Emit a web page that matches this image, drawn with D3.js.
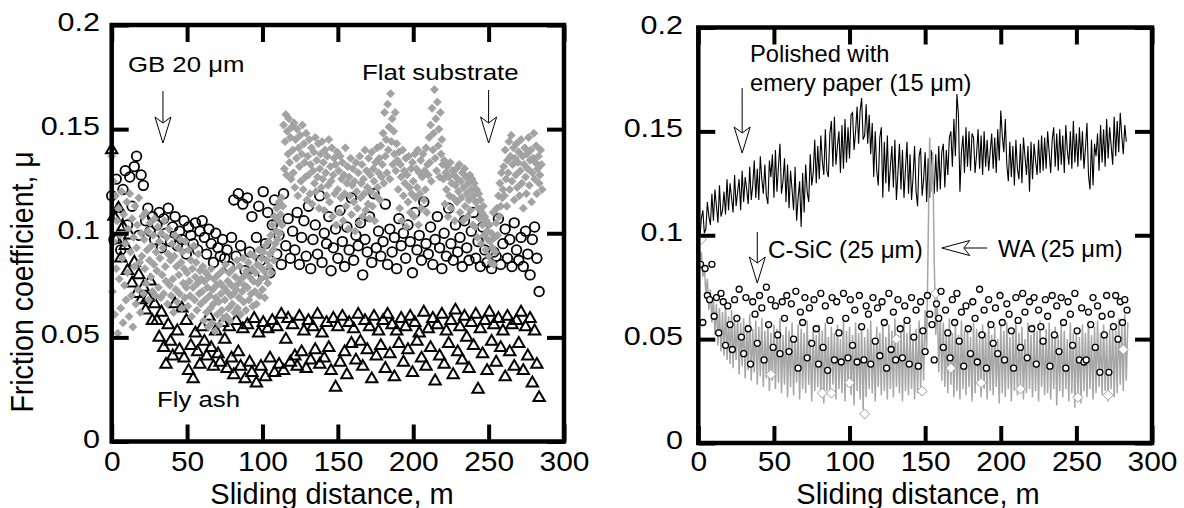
<!DOCTYPE html>
<html>
<head>
<meta charset="utf-8">
<script src="https://cdn.jsdelivr.net/npm/d3@7"></script>
<style>
  body { margin: 0; background: #fff; }
  svg text { font-family: "Liberation Sans", Arial, sans-serif; fill: #000; }
</style>
</head>
<body>
<svg id="chart" width="1184" height="508"></svg>
<script>
var xTicks = [0, 50, 100, 150, 200, 250, 300];
var yTicks = [0, 0.05, 0.1, 0.15, 0.2];
var yTickLabels = ["0", "0.05", "0.1", "0.15", "0.2"];

// left panel: flat substrate (grey diamonds), every 0.5 m from 0 m
var flatStart = 0, flatStep = 0.5;
var flatMu = [
  .137,.072,.125,.096,.061,.118,.083,.106,.052,.112,.078,.099,.064,.120,.088,.057,.109,.075,.095,.068,
  .115,.081,.102,.060,.119,.091,.070,.107,.055,.098,.084,.113,.066,.093,.104,.073,.117,.086,.062,.100,
  .089,.108,.071,.097,.083,.110,.076,.092,.101,.068,.087,.105,.079,.094,.072,.099,.085,.107,.070,.091,
  .082,.103,.074,.096,.088,.069,.100,.080,.093,.071,.106,.084,.077,.098,.066,.090,.102,.075,.087,.070,
  .095,.078,.062,.089,.099,.073,.084,.067,.093,.080,.071,.097,.086,.064,.091,.076,.083,.069,.096,.074,
  .081,.065,.092,.077,.070,.087,.060,.083,.074,.094,.068,.079,.086,.063,.076,.090,.071,.082,.066,.078,
  .072,.084,.058,.077,.068,.081,.062,.074,.055,.079,.070,.064,.083,.057,.073,.066,.078,.053,.069,.075,
  .061,.080,.067,.056,.076,.071,.063,.082,.059,.074,.068,.085,.060,.072,.077,.064,.081,.058,.070,.075,
  .066,.083,.071,.062,.079,.073,.087,.064,.076,.069,.084,.061,.078,.072,.088,.067,.075,.080,.063,.082,
  .074,.086,.068,.079,.090,.071,.083,.065,.077,.089,.072,.081,.066,.085,.076,.092,.070,.084,.078,.088,
  .073,.091,.082,.069,.094,.079,.087,.076,.096,.084,.090,.099,.081,.104,.092,.087,.108,.095,.101,.112,
  .097,.106,.115,.100,.109,.117,.104,.113,.152,.131,.144,.157,.128,.149,.138,.155,.134,.146,.126,.151,
  .140,.129,.153,.122,.145,.136,.150,.118,.141,.132,.147,.125,.138,.152,.121,.143,.134,.127,.148,.116,
  .137,.128,.145,.119,.133,.141,.114,.130,.139,.124,.146,.120,.135,.127,.143,.112,.131,.138,.122,.144,
  .126,.134,.111,.140,.129,.118,.137,.123,.145,.115,.132,.125,.141,.108,.128,.136,.119,.133,.104,.139,
  .121,.130,.110,.137,.117,.126,.134,.106,.128,.119,.141,.113,.124,.132,.102,.127,.118,.136,.109,.123,
  .131,.115,.125,.101,.134,.120,.112,.129,.105,.137,.117,.124,.133,.108,.126,.119,.140,.111,.130,.122,
  .114,.136,.107,.128,.120,.139,.113,.131,.125,.106,.134,.118,.141,.122,.129,.136,.116,.142,.127,.133,
  .148,.124,.158,.137,.145,.129,.162,.140,.151,.126,.167,.144,.155,.133,.149,.138,.158,.130,.143,.135,
  .121,.139,.112,.133,.127,.106,.140,.118,.130,.124,.136,.103,.128,.115,.137,.122,.110,.131,.119,.134,
  .125,.108,.138,.117,.131,.122,.140,.104,.129,.119,.135,.112,.127,.138,.116,.130,.121,.141,.110,.133,
  .128,.146,.134,.152,.125,.160,.140,.148,.169,.136,.155,.130,.163,.142,.150,.127,.158,.138,.145,.133,
  .126,.135,.114,.129,.121,.132,.108,.127,.118,.134,.112,.124,.130,.117,.128,.106,.123,.131,.115,.126,
  .120,.133,.110,.125,.117,.129,.106,.122,.131,.113,.127,.119,.108,.124,.116,.128,.111,.121,.126,.104,
  .118,.124,.103,.115,.121,.098,.112,.119,.107,.116,.095,.110,.104,.113,.099,.108,.092,.106,.101,.097,
  .089,.104,.096,.086,.100,.093,.110,.085,.098,.091,.105,.112,.099,.118,.108,.124,.113,.129,.117,.121,
  .132,.118,.140,.126,.113,.135,.129,.144,.121,.137,.147,.125,.133,.141,.116,.136,.128,.143,.122,.134,
  .139,.118,.130,.145,.124,.137,.112,.133,.141,.127,.119,.138,.131,.146,.123,.135,.140,.115,.129,.136,
  .148,.126,.134,.142,.119,.131,.137,.124,.128,.140,.133,.121
];

// left panel: GB 20 um (open circles), every 1.5 m from 0 m
var gbStart = 0, gbStep = 1.5;
var gbMu = [
  .118,.097,.126,.108,.092,.121,.130,.104,.127,.113, .132,.137,.099,.128,.123,.106,.112,.101,.108,.097,
  .104,.110,.093,.107,.100,.112,.096,.103,.108,.094, .101,.097,.106,.090,.103,.099,.095,.105,.092,.101,
  .106,.098,.090,.102,.095,.086,.100,.093,.089,.097, .088,.092,.084,.098,.116,.089,.119,.094,.114,.082,
  .117,.091,.108,.079,.098,.113,.087,.120,.095,.110, .081,.104,.116,.090,.099,.085,.119,.094,.107,.088,
  .101,.092,.110,.085,.098,.106,.089,.113,.083,.097, .104,.090,.118,.086,.100,.095,.108,.082,.093,.102,
  .088,.111,.096,.084,.103,.092,.117,.087,.099,.094, .105,.080,.097,.091,.108,.086,.119,.093,.101,.089,
  .096,.114,.085,.102,.091,.098,.083,.107,.094,.100, .088,.104,.096,.081,.110,.092,.099,.087,.115,.095,
  .090,.103,.085,.097,.108,.093,.083,.100,.089,.112, .095,.087,.104,.091,.098,.084,.106,.093,.087,.101,
  .110,.088,.096,.084,.103,.092,.086,.099,.083,.091, .089,.107,.085,.095,.102,.088,.097,.084,.105,.092,
  .087,.098,.084,.101,.090,.080,.097,.103,.088,.072
];

// left panel: fly ash (open triangles), every 1.5 m from 0 m
var flyStart = 0, flyStep = 1.5;
var flyMu = [
  .140,.108,.097,.112,.088,.103,.094,.082,.099,.076, .086,.071,.080,.068,.074,.063,.069,.077,.058,.066,
  .058,.050,.062,.045,.037,.056,.048,.041,.066,.053, .044,.064,.040,.058,.034,.046,.030,.052,.043,.037,
  .055,.048,.041,.060,.045,.036,.053,.042,.038,.057, .049,.035,.055,.040,.032,.058,.043,.036,.054,.030,
  .056,.038,.033,.059,.028,.052,.036,.057,.031,.054, .040,.058,.033,.055,.037,.061,.034,.049,.059,.038,
  .056,.041,.036,.060,.043,.053,.035,.058,.039,.055, .044,.061,.037,.052,.040,.057,.045,.034,.059,.026,
  .055,.038,.060,.043,.032,.057,.047,.054,.039,.061, .048,.036,.058,.044,.055,.030,.060,.041,.053,.046,
  .058,.035,.061,.042,.056,.031,.053,.047,.059,.038, .055,.044,.060,.033,.057,.048,.052,.040,.062,.036,
  .054,.045,.059,.029,.056,.041,.061,.037,.053,.047, .058,.032,.063,.043,.055,.039,.060,.050,.035,.057,
  .046,.061,.025,.054,.042,.058,.034,.062,.048,.056, .038,.059,.045,.053,.031,.060,.043,.056,.036,.058,
  .047,.062,.034,.055,.041,.059,.028,.053,.037,.021
];

// right panel: polished with emery paper (black line), every 1 m from 0 m
var emeryStart = 0, emeryStep = 1;
var emeryMu = [
  .106,.098,.108,.112,.101,.103,.116,.109,.105,.120, .107,.122,.114,.106,.124,.109,.112,.121,.110,.127,
  .112,.125,.118,.111,.129,.114,.121,.127,.112,.131, .116,.128,.122,.115,.133,.117,.124,.136,.118,.132,
  .117,.138,.127,.120,.134,.119,.115,.136,.128,.139, .118,.141,.121,.133,.144,.120,.126,.137,.116,.134,
  .113,.131,.122,.112,.133,.107,.118,.126,.104,.130, .111,.134,.121,.116,.139,.124,.130,.146,.125,.143,
  .127,.148,.136,.129,.151,.131,.128,.149,.155,.133, .157,.134,.143,.150,.130,.153,.132,.156,.135,.152,
  .137,.158,.159,.141,.150,.162,.144,.160,.166,.146, .148,.163,.144,.158,.139,.154,.128,.150,.131,.124,
  .147,.152,.118,.145,.125,.148,.121,.133,.143,.123, .146,.117,.130,.144,.122,.141,.118,.132,.145,.120,
  .139,.117,.128,.143,.121,.114,.138,.142,.119,.127, .140,.116,.137,.118,.141,.130,.120,.139,.121,.143,
  .122,.140,.144,.123,.141,.129,.147,.150,.133,.156, .138,.168,.158,.121,.140,.148,.130,.152,.133,.150,
  .131,.149,.147,.130,.139,.151,.132,.148,.129,.150, .133,.146,.131,.140,.149,.132,.147,.130,.151,.136,
  .160,.148,.140,.156,.134,.126,.145,.128,.143,.124, .146,.132,.127,.144,.125,.147,.138,.129,.143,.121,
  .145,.127,.144,.136,.129,.146,.130,.148,.131,.147, .132,.150,.140,.130,.146,.152,.133,.149,.131,.151,
  .134,.148,.130,.153,.141,.134,.150,.132,.155,.135, .149,.133,.152,.136,.150,.132,.142,.154,.129,.122,
  .146,.124,.144,.138,.149,.131,.153,.135,.151,.133, .156,.137,.152,.143,.134,.157,.138,.155,.140,.159,
  .148,.139,.153,.145
];

// right panel: WA 25 um (grey line), every 1 m from 0 m
var waStart = 0, waStep = 1;
var waMu = [
  .096,.088,.092,.080,.085,.072,.079,.064,.074,.058, .070,.052,.067,.047,.065,.044,.063,.042,.066,.040,
  .061,.038,.064,.036,.059,.040,.062,.033,.058,.037, .060,.031,.057,.035,.062,.030,.055,.034,.059,.028,
  .056,.032,.060,.027,.054,.031,.058,.025,.053,.030, .057,.026,.055,.029,.060,.024,.052,.028,.056,.022,
  .054,.027,.058,.023,.051,.029,.057,.021,.055,.026, .053,.024,.059,.028,.050,.020,.056,.025,.052,.027,
  .057,.022,.054,.019,.058,.025,.051,.023,.056,.028, .053,.021,.057,.026,.050,.024,.059,.020,.054,.027,
  .056,.023,.052,.018,.058,.025,.053,.021,.057,.016, .051,.022,.055,.026,.059,.024,.050,.020,.056,.027,
  .053,.023,.058,.025,.051,.021,.057,.026,.054,.022, .060,.027,.052,.024,.056,.020,.058,.025,.053,.023,
  .057,.026,.051,.021,.055,.024,.059,.027,.054,.030, .064,.045,.098,.147,.121,.140,.088,.052,.070,.034,
  .062,.030,.058,.027,.055,.024,.060,.028,.053,.022, .057,.025,.052,.021,.059,.026,.054,.023,.056,.027,
  .051,.020,.058,.024,.055,.028,.050,.022,.057,.026, .053,.021,.059,.025,.052,.023,.056,.027,.050,.019,
  .057,.024,.054,.022,.058,.026,.051,.020,.055,.025, .059,.023,.053,.027,.056,.021,.050,.024,.058,.026,
  .052,.022,.057,.025,.054,.020,.059,.027,.051,.023, .055,.024,.058,.021,.053,.026,.056,.018,.052,.025,
  .057,.022,.054,.026,.050,.020,.058,.024,.053,.017, .055,.023,.051,.019,.057,.025,.053,.022,.058,.026,
  .052,.021,.056,.024,.059,.027,.053,.023,.057,.025, .051,.020,.055,.026,.058,.022,.054,.024,.060,.028,
  .056,.025,.062,.030,.058
];
// WA markers (open grey diamonds) that stand out of the line
var waMarkX  = [2, 48, 82, 88, 100, 110, 131, 148, 157, 167, 187, 213, 251, 271, 281];
var waMarkMu = [.098, .033, .024, .024, .029, .014, .050, .025, .072, .036, .029, .026, .022, .023, .045];

// right panel: C-SiC 25 um (small open circles), every 1.5 m from 1.5 m
var csicStart = 1.5, csicStep = 1.5;
var csicMu = [
  .086,.058,.084,.071,.069,.086,.061,.070,.053,.072, .068,.047,.066,.057,.045,.069,.060,.074,.051,.043,
  .070,.055,.038,.068,.062,.048,.071,.065,.040,.075, .057,.069,.046,.066,.052,.043,.068,.060,.071,.044,
  .067,.050,.073,.036,.063,.058,.070,.041,.065,.048, .069,.055,.038,.072,.046,.066,.035,.059,.070,.040,
  .068,.053,.039,.072,.060,.041,.069,.047,.064,.039, .071,.056,.040,.066,.062,.038,.070,.049,.065,.042,
  .068,.058,.036,.072,.045,.063,.040,.069,.055,.041, .066,.059,.038,.070,.051,.064,.037,.068,.054,.044,
  .071,.062,.057,.040,.067,.060,.073,.046,.064,.053, .041,.069,.058,.072,.049,.063,.037,.066,.055,.043,
  .068,.060,.039,.074,.052,.064,.036,.069,.057,.048, .065,.043,.071,.058,.040,.067,.062,.054,.036,.070,
  .059,.046,.072,.063,.041,.068,.055,.070,.038,.064, .056,.049,.069,.061,.037,.071,.052,.066,.044,.070,
  .058,.036,.068,.062,.047,.072,.054,.040,.065,.039, .040,.063,.057,.070,.046,.066,.034,.061,.052,.071,
  .034,.062,.056,.071,.050,.068,.058,.069,.064
];

// ---- layout ----
var svg = d3.select("#chart");
svg.append("rect").attr("width", 1184).attr("height", 508).attr("fill", "#fff");

var panels = [
  { x: d3.scaleLinear().domain([0, 300]).range([111.7, 564]),
    y: d3.scaleLinear().domain([0, 0.2]).range([441.5, 25]),
    labelGap: 11.7, titleX: 332 },
  { x: d3.scaleLinear().domain([0, 300]).range([698.3, 1152]),
    y: d3.scaleLinear().domain([0, 0.2]).range([443, 27.5]),
    labelGap: 15.3, titleX: 918 }
];

function stretchedText(g, str, x, y, size, sx, anchor) {
  return g.append("text")
    .attr("transform", "translate(" + x + "," + y + ") scale(" + sx + ",1)")
    .attr("text-anchor", anchor || "start")
    .attr("font-size", size)
    .text(str);
}

function arrowHead(g, d) {
  g.append("path").attr("d", d)
    .attr("fill", "#fff").attr("stroke", "#000").attr("stroke-width", 1);
}

// down-pointing open arrow: tip at (x, yTip)
function downArrow(g, x, yTop, yTip) {
  var len = 26, half = 8, notch = 6;
  g.append("line").attr("x1", x).attr("x2", x).attr("y1", yTop).attr("y2", yTip - len + notch)
    .attr("stroke", "#000").attr("stroke-width", 1);
  arrowHead(g, "M" + (x - half) + "," + (yTip - len) + "L" + x + "," + yTip + "L" + (x + half) + "," + (yTip - len) +
    "L" + x + "," + (yTip - len + notch) + "Z");
}

function leftArrow(g, xTip, y, xEnd) {
  var len = 28, half = 7.5, notch = 6;
  g.append("line").attr("x1", xTip + len - notch).attr("x2", xEnd).attr("y1", y).attr("y2", y)
    .attr("stroke", "#000").attr("stroke-width", 1);
  arrowHead(g, "M" + (xTip + len) + "," + (y - half) + "L" + xTip + "," + y + "L" + (xTip + len) + "," + (y + half) +
    "L" + (xTip + len - notch) + "," + y + "Z");
}

function drawAxes(p) {
  var g = svg.append("g");
  var x = p.x, y = p.y;
  var x0 = x.range()[0], x1 = x.range()[1], y0 = y.range()[0], y1 = y.range()[1];

  var bottom = g.append("g").attr("transform", "translate(0," + y0 + ")")
    .call(d3.axisBottom(x).tickValues(xTicks).tickSize(-17).tickFormat(d3.format("d")));
  var top = g.append("g").attr("transform", "translate(0," + y1 + ")")
    .call(d3.axisTop(x).tickValues(xTicks).tickSize(-17).tickFormat(""));
  var left = g.append("g").attr("transform", "translate(" + x0 + ",0)")
    .call(d3.axisLeft(y).tickValues(yTicks).tickSize(-17).tickFormat(function (d, i) { return yTickLabels[i]; }));
  var right = g.append("g").attr("transform", "translate(" + x1 + ",0)")
    .call(d3.axisRight(y).tickValues(yTicks).tickSize(-17).tickFormat(""));

  [bottom, top, left, right].forEach(function (a) {
    a.attr("font-family", null).attr("font-size", null);
    a.select(".domain").remove();
    a.selectAll(".tick line").attr("stroke", "#000").attr("stroke-width", 4);
  });

  bottom.selectAll(".tick text")
    .attr("y", null).attr("dy", null).attr("fill", "#000")
    .attr("font-size", 28.5)
    .attr("transform", "translate(0," + (470.5 - y0) + ") scale(1.05,1)");
  left.selectAll(".tick text")
    .attr("x", null).attr("dy", null).attr("fill", "#000")
    .attr("font-size", 25)
    .attr("transform", "translate(" + (-p.labelGap) + ",5.5) scale(1.22,1)");

  g.append("rect")
    .attr("x", x0).attr("y", y1).attr("width", x1 - x0).attr("height", y0 - y1)
    .attr("fill", "none").attr("stroke", "#000").attr("stroke-width", 4.5);

  stretchedText(g, "Sliding distance, m", p.titleX, 503.5, 29, 1, "middle");
}

// ---- left panel ----
var L = panels[0];
var gl = svg.append("g");

gl.append("g").selectAll("path").data(flyMu).join("path")
  .attr("d", d3.symbol(d3.symbolTriangle, 56))
  .attr("transform", function (d, i) { return "translate(" + L.x(flyStart + i * flyStep) + "," + L.y(d) + ")"; })
  .attr("fill", "none").attr("stroke", "#000").attr("stroke-width", 2);

gl.append("g").selectAll("circle").data(gbMu).join("circle")
  .attr("cx", function (d, i) { return L.x(gbStart + i * gbStep); })
  .attr("cy", function (d) { return L.y(d); })
  .attr("r", 4.8)
  .attr("fill", "none").attr("stroke", "#000").attr("stroke-width", 1.8);

gl.append("g").selectAll("path").data(flatMu).join("path")
  .attr("d", "M0,-4L4,0L0,4L-4,0Z")
  .attr("transform", function (d, i) { return "translate(" + L.x(flatStart + i * flatStep) + "," + L.y(d) + ")"; })
  .attr("fill", "#a3a3a3").attr("stroke", "#9c9c9c").attr("stroke-width", 0.8);

drawAxes(L);

stretchedText(gl, "GB 20 \u03bcm", 128, 72, 23, 1.12);
stretchedText(gl, "Flat substrate", 362, 80, 22.5, 1.15);
stretchedText(gl, "Fly ash", 157, 406.5, 23, 1.12);
downArrow(gl, L.x(34), 91, 143);
downArrow(gl, L.x(250), 90, 143);

svg.append("text")
  .attr("transform", "translate(33,282) scale(1.1,1) rotate(-90)")
  .attr("text-anchor", "middle").attr("font-size", 28.5)
  .text("Friction coefficient, \u03bc");

// ---- right panel ----
var R = panels[1];
var gr = svg.append("g");

gr.append("path").datum(emeryMu)
  .attr("d", d3.line().x(function (d, i) { return R.x(emeryStart + i * emeryStep); }).y(function (d) { return R.y(d); }))
  .attr("fill", "none").attr("stroke", "#000").attr("stroke-width", 1.1);

gr.append("path").datum(waMu)
  .attr("d", d3.line().x(function (d, i) { return R.x(waStart + i * waStep); }).y(function (d) { return R.y(d); }))
  .attr("fill", "none").attr("stroke", "#a6a6a6").attr("stroke-width", 1.5);

gr.append("g").selectAll("path").data(waMarkMu).join("path")
  .attr("d", "M0,-5L5,0L0,5L-5,0Z")
  .attr("transform", function (d, i) { return "translate(" + R.x(waMarkX[i]) + "," + R.y(d) + ")"; })
  .attr("fill", "#fff").attr("stroke", "#a0a0a0").attr("stroke-width", 1);

gr.append("g").selectAll("circle").data(csicMu).join("circle")
  .attr("cx", function (d, i) { return R.x(csicStart + i * csicStep); })
  .attr("cy", function (d) { return R.y(d); })
  .attr("r", 3)
  .attr("fill", "#fff").attr("stroke", "#000").attr("stroke-width", 1.3);

drawAxes(R);

stretchedText(gr, "Polished with", 750, 62, 23, 1.03);
stretchedText(gr, "emery paper (15 \u03bcm)", 750, 91, 23, 1.03);
stretchedText(gr, "C-SiC (25 \u03bcm)", 768, 258, 23, 1.05);
stretchedText(gr, "WA (25 \u03bcm)", 998, 257, 23, 1.03);
downArrow(gr, R.x(29), 88, 153);
downArrow(gr, R.x(39), 232, 283);
leftArrow(gr, R.x(161), 248, R.x(191));
</script>
</body>
</html>
